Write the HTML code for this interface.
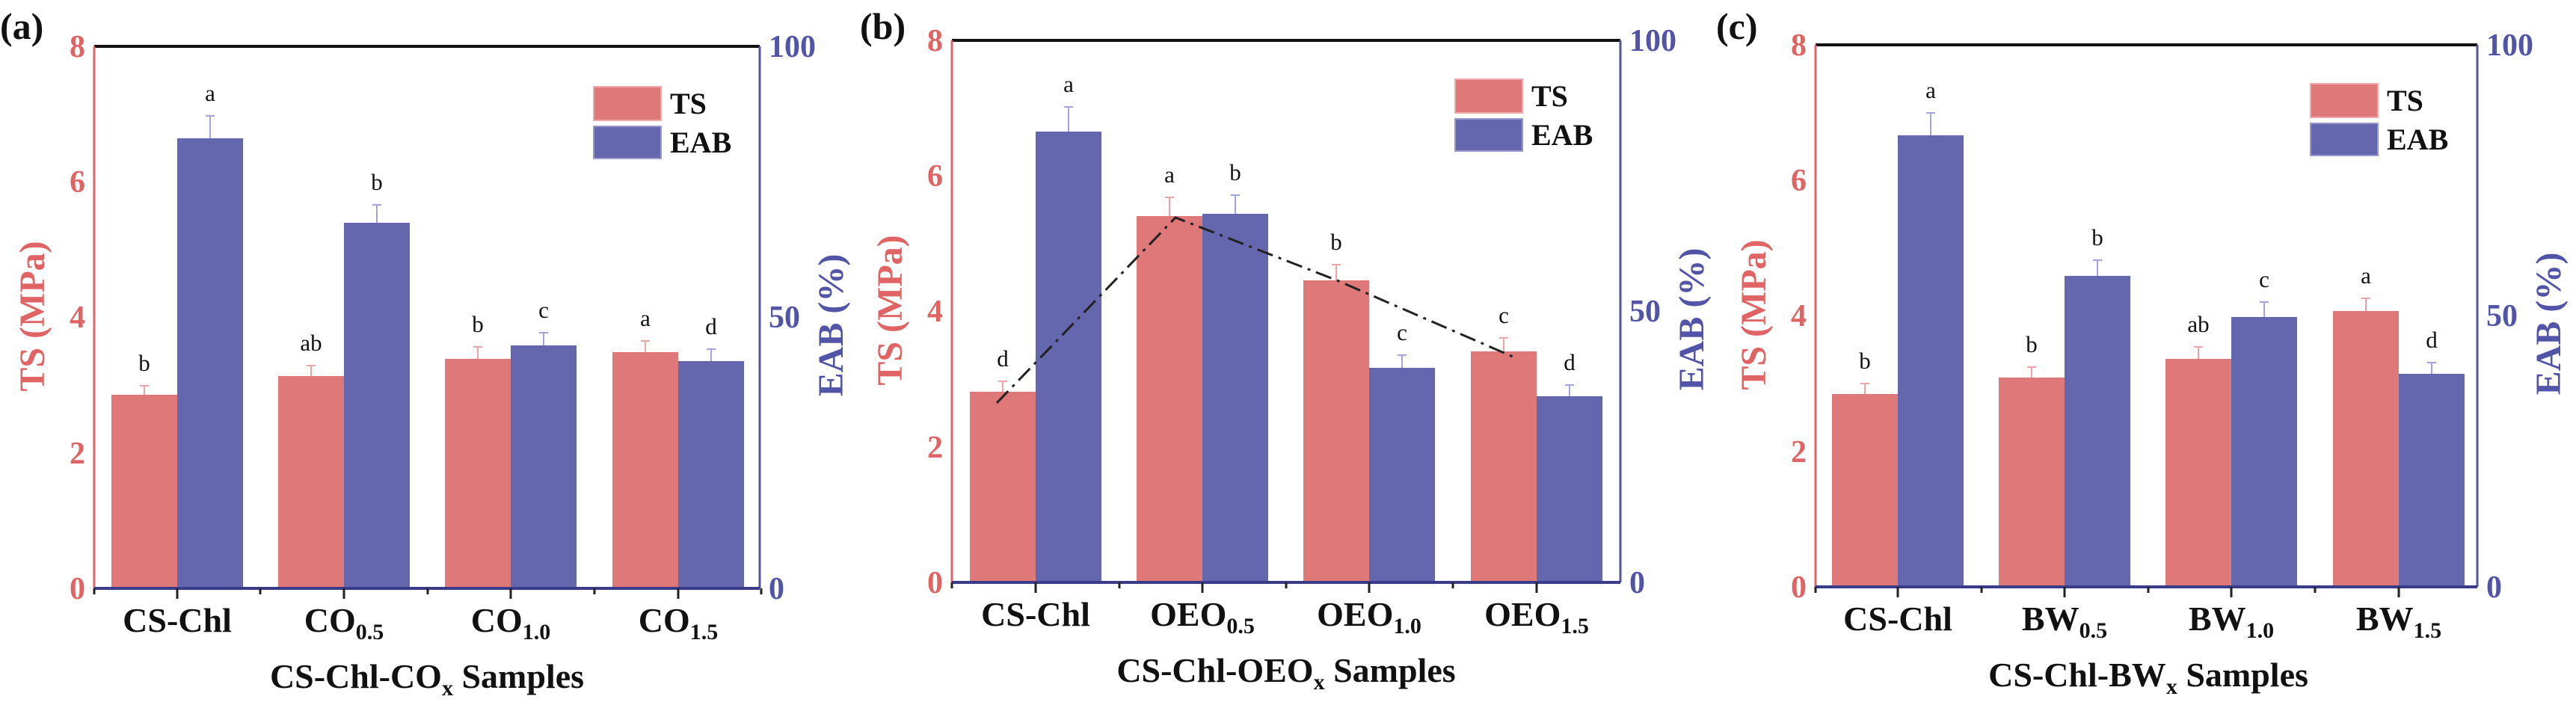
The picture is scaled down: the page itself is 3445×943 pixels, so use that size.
<!DOCTYPE html>
<html><head><meta charset="utf-8"><style>
html,body{margin:0;padding:0;background:#fff;}
svg{display:block;}
text{font-family:"Liberation Serif",serif;font-weight:bold;}
.tl{fill:#e06464;font-size:42px;font-weight:bold;}
.tr{fill:#5254a8;font-size:42px;font-weight:bold;}
.xl{font-size:46px;fill:#111;}
.lt{font-size:31px;font-weight:normal;fill:#111;}
.ts{fill:#df7878;}
.eab{fill:#6467ae;}
.et{stroke:#eaa4a4;stroke-width:2;fill:none;}
.ee{stroke:#a4a4dc;stroke-width:2;fill:none;}
</style></head><body>
<svg width="3445" height="943" viewBox="0 0 3445 943" xmlns="http://www.w3.org/2000/svg">
<text x="0" y="52" style="font-size:50px" fill="#111">(a)</text>
<text x="1150" y="52" style="font-size:50px" fill="#111">(b)</text>
<text x="2295" y="52" style="font-size:50px" fill="#111">(c)</text>

<!-- Panel A -->
<g transform="translate(126,62)">
<rect class="ts" x="23" y="466" width="88" height="259"/><rect class="eab" x="111" y="123" width="88" height="602"/>
<rect class="ts" x="246" y="441" width="88" height="284"/><rect class="eab" x="334" y="236" width="88" height="489"/>
<rect class="ts" x="469" y="418" width="88" height="307"/><rect class="eab" x="557" y="400" width="88" height="325"/>
<rect class="ts" x="693" y="409" width="88" height="316"/><rect class="eab" x="781" y="421" width="88" height="304"/>
<path class="et" d="M67 466V454M61 454h12M290 441V427M284 427h12M513 418V402M507 402h12M737 409V394M731 394h12"/>
<path class="ee" d="M155 123V93M149 93h12M378 236V212M372 212h12M601 400V383M595 383h12M825 421V405M819 405h12"/>
<text class="lt" x="67" y="434" text-anchor="middle">b</text><text class="lt" x="155" y="73" text-anchor="middle">a</text>
<text class="lt" x="290" y="407" text-anchor="middle">ab</text><text class="lt" x="378" y="192" text-anchor="middle">b</text>
<text class="lt" x="513" y="382" text-anchor="middle">b</text><text class="lt" x="601" y="363" text-anchor="middle">c</text>
<text class="lt" x="737" y="374" text-anchor="middle">a</text><text class="lt" x="825" y="385" text-anchor="middle">d</text>
<line x1="0" y1="0" x2="890" y2="0" stroke="#111" stroke-width="4"/>
<line x1="0" y1="0" x2="0" y2="725" stroke="#e06464" stroke-width="3"/>
<line x1="890" y1="0" x2="890" y2="725" stroke="#5254a8" stroke-width="3"/>
<line x1="0" y1="725" x2="890" y2="725" stroke="#3a3c8a" stroke-width="4"/>
<path d="M111 725v14M334 725v14M557 725v14M781 725v14M0 725v8M222 725v8M446 725v8M669 725v8M892 725v8" stroke="#222" stroke-width="3"/>
<text class="tl" x="-12" y="14" text-anchor="end">8</text><text class="tl" x="-12" y="195" text-anchor="end">6</text><text class="tl" x="-12" y="376" text-anchor="end">4</text><text class="tl" x="-12" y="558" text-anchor="end">2</text><text class="tl" x="-12" y="739" text-anchor="end">0</text>
<text class="tr" x="902" y="14">100</text><text class="tr" x="902" y="376">50</text><text class="tr" x="902" y="739">0</text>
<text x="-78" y="361" transform="rotate(-90 -78 361)" text-anchor="middle" dominant-baseline="middle" style="font-size:48px" fill="#e06464">TS (MPa)</text>
<text x="990" y="373" transform="rotate(-90 990 373)" text-anchor="middle" dominant-baseline="middle" style="font-size:48px" fill="#5254a8">EAB (%)</text>
<rect x="668" y="54" width="90" height="45" fill="#df7878" stroke="#eaa" stroke-width="2"/><rect x="668" y="107" width="90" height="43" fill="#6467ae" stroke="#99c" stroke-width="2"/>
<text x="770" y="90" style="font-size:40px" fill="#111">TS</text><text x="770" y="142" style="font-size:40px" fill="#111">EAB</text>
<text class="xl" x="111" y="783" text-anchor="middle">CS-Chl</text>
<text class="xl" x="334" y="783" text-anchor="middle">CO<tspan dy="10" style="font-size:30px">0.5</tspan></text>
<text class="xl" x="557" y="783" text-anchor="middle">CO<tspan dy="10" style="font-size:30px">1.0</tspan></text>
<text class="xl" x="781" y="783" text-anchor="middle">CO<tspan dy="10" style="font-size:30px">1.5</tspan></text>
<text class="xl" x="445" y="858" text-anchor="middle">CS-Chl-CO<tspan dy="10" style="font-size:30px">x</tspan><tspan dy="-10"> Samples</tspan></text>
</g>

<!-- Panel B -->
<g transform="translate(1273,54)">
<rect class="ts" x="24" y="470" width="88" height="255"/><rect class="eab" x="112" y="122" width="88" height="603"/>
<rect class="ts" x="247" y="235" width="88" height="490"/><rect class="eab" x="335" y="232" width="88" height="493"/>
<rect class="ts" x="470" y="321" width="88" height="404"/><rect class="eab" x="558" y="438" width="88" height="287"/>
<rect class="ts" x="694" y="416" width="88" height="309"/><rect class="eab" x="782" y="476" width="88" height="249"/>
<path class="et" d="M68 470V456M62 456h12M291 235V210M285 210h12M514 321V300M508 300h12M738 416V398M732 398h12"/>
<path class="ee" d="M156 122V89M150 89h12M379 232V207M373 207h12M602 438V421M596 421h12M826 476V461M820 461h12"/>
<text class="lt" x="68" y="436" text-anchor="middle">d</text><text class="lt" x="156" y="69" text-anchor="middle">a</text>
<text class="lt" x="291" y="190" text-anchor="middle">a</text><text class="lt" x="379" y="187" text-anchor="middle">b</text>
<text class="lt" x="514" y="280" text-anchor="middle">b</text><text class="lt" x="602" y="401" text-anchor="middle">c</text>
<text class="lt" x="738" y="378" text-anchor="middle">c</text><text class="lt" x="826" y="441" text-anchor="middle">d</text>
<polyline points="60,485 299,237 515,321 750,423" fill="none" stroke="#222" stroke-width="3" stroke-dasharray="22,8,4,8"/>
<line x1="0" y1="0" x2="894" y2="0" stroke="#111" stroke-width="4"/>
<line x1="0" y1="0" x2="0" y2="725" stroke="#e06464" stroke-width="3"/>
<line x1="894" y1="0" x2="894" y2="725" stroke="#5254a8" stroke-width="3"/>
<line x1="0" y1="725" x2="894" y2="725" stroke="#3a3c8a" stroke-width="4"/>
<path d="M112 725v14M335 725v14M558 725v14M782 725v14M0 725v8M224 725v8M447 725v8M670 725v8" stroke="#222" stroke-width="3"/>
<text class="tl" x="-12" y="14" text-anchor="end">8</text><text class="tl" x="-12" y="195" text-anchor="end">6</text><text class="tl" x="-12" y="376" text-anchor="end">4</text><text class="tl" x="-12" y="558" text-anchor="end">2</text><text class="tl" x="-12" y="739" text-anchor="end">0</text>
<text class="tr" x="906" y="14">100</text><text class="tr" x="906" y="376">50</text><text class="tr" x="906" y="739">0</text>
<text x="-78" y="361" transform="rotate(-90 -78 361)" text-anchor="middle" dominant-baseline="middle" style="font-size:48px" fill="#e06464">TS (MPa)</text>
<text x="994" y="373" transform="rotate(-90 994 373)" text-anchor="middle" dominant-baseline="middle" style="font-size:48px" fill="#5254a8">EAB (%)</text>
<rect x="673" y="52" width="90" height="45" fill="#df7878" stroke="#eaa" stroke-width="2"/><rect x="673" y="105" width="90" height="43" fill="#6467ae" stroke="#99c" stroke-width="2"/>
<text x="775" y="88" style="font-size:40px" fill="#111">TS</text><text x="775" y="140" style="font-size:40px" fill="#111">EAB</text>
<text class="xl" x="112" y="783" text-anchor="middle">CS-Chl</text>
<text class="xl" x="335" y="783" text-anchor="middle">OEO<tspan dy="10" style="font-size:30px">0.5</tspan></text>
<text class="xl" x="558" y="783" text-anchor="middle">OEO<tspan dy="10" style="font-size:30px">1.0</tspan></text>
<text class="xl" x="782" y="783" text-anchor="middle">OEO<tspan dy="10" style="font-size:30px">1.5</tspan></text>
<text class="xl" x="447" y="858" text-anchor="middle">CS-Chl-OEO<tspan dy="10" style="font-size:30px">x</tspan><tspan dy="-10"> Samples</tspan></text>
</g>

<!-- Panel C -->
<g transform="translate(2428,60)">
<rect class="ts" x="22" y="467" width="88" height="258"/><rect class="eab" x="110" y="121" width="88" height="604"/>
<rect class="ts" x="245" y="445" width="88" height="280"/><rect class="eab" x="333" y="309" width="88" height="416"/>
<rect class="ts" x="468" y="420" width="88" height="305"/><rect class="eab" x="556" y="364" width="88" height="361"/>
<rect class="ts" x="692" y="356" width="88" height="369"/><rect class="eab" x="780" y="440" width="88" height="285"/>
<path class="et" d="M66 467V453M60 453h12M289 445V431M283 431h12M512 420V404M506 404h12M736 356V339M730 339h12"/>
<path class="ee" d="M154 121V91M148 91h12M377 309V288M371 288h12M600 364V344M594 344h12M824 440V425M818 425h12"/>
<text class="lt" x="66" y="433" text-anchor="middle">b</text><text class="lt" x="154" y="71" text-anchor="middle">a</text>
<text class="lt" x="289" y="411" text-anchor="middle">b</text><text class="lt" x="377" y="268" text-anchor="middle">b</text>
<text class="lt" x="512" y="384" text-anchor="middle">ab</text><text class="lt" x="600" y="324" text-anchor="middle">c</text>
<text class="lt" x="736" y="319" text-anchor="middle">a</text><text class="lt" x="824" y="405" text-anchor="middle">d</text>
<line x1="0" y1="0" x2="885" y2="0" stroke="#111" stroke-width="4"/>
<line x1="0" y1="0" x2="0" y2="725" stroke="#e06464" stroke-width="3"/>
<line x1="885" y1="0" x2="885" y2="725" stroke="#5254a8" stroke-width="3"/>
<line x1="0" y1="725" x2="885" y2="725" stroke="#3a3c8a" stroke-width="4"/>
<path d="M110 725v14M333 725v14M556 725v14M780 725v14M0 725v8M222 725v8M445 725v8M668 725v8" stroke="#222" stroke-width="3"/>
<text class="tl" x="-12" y="14" text-anchor="end">8</text><text class="tl" x="-12" y="195" text-anchor="end">6</text><text class="tl" x="-12" y="376" text-anchor="end">4</text><text class="tl" x="-12" y="558" text-anchor="end">2</text><text class="tl" x="-12" y="739" text-anchor="end">0</text>
<text class="tr" x="897" y="14">100</text><text class="tr" x="897" y="376">50</text><text class="tr" x="897" y="739">0</text>
<text x="-78" y="361" transform="rotate(-90 -78 361)" text-anchor="middle" dominant-baseline="middle" style="font-size:48px" fill="#e06464">TS (MPa)</text>
<text x="985" y="373" transform="rotate(-90 985 373)" text-anchor="middle" dominant-baseline="middle" style="font-size:48px" fill="#5254a8">EAB (%)</text>
<rect x="662" y="52" width="90" height="45" fill="#df7878" stroke="#eaa" stroke-width="2"/><rect x="662" y="105" width="90" height="43" fill="#6467ae" stroke="#99c" stroke-width="2"/>
<text x="764" y="88" style="font-size:40px" fill="#111">TS</text><text x="764" y="140" style="font-size:40px" fill="#111">EAB</text>
<text class="xl" x="110" y="783" text-anchor="middle">CS-Chl</text>
<text class="xl" x="333" y="783" text-anchor="middle">BW<tspan dy="10" style="font-size:30px">0.5</tspan></text>
<text class="xl" x="556" y="783" text-anchor="middle">BW<tspan dy="10" style="font-size:30px">1.0</tspan></text>
<text class="xl" x="780" y="783" text-anchor="middle">BW<tspan dy="10" style="font-size:30px">1.5</tspan></text>
<text class="xl" x="445" y="858" text-anchor="middle">CS-Chl-BW<tspan dy="10" style="font-size:30px">x</tspan><tspan dy="-10"> Samples</tspan></text>
</g>
</svg>
</body></html>
